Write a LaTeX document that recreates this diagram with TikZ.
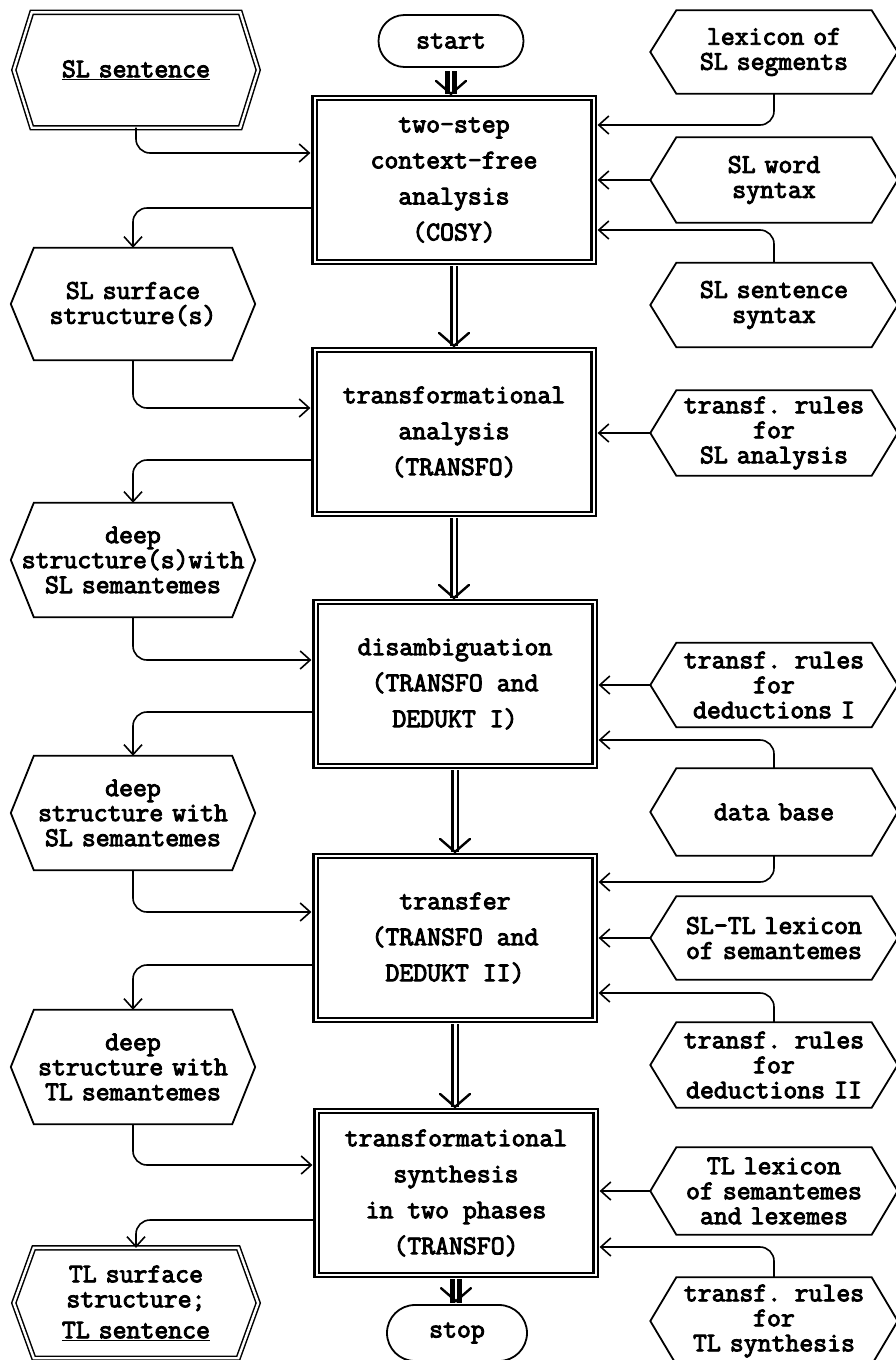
\documentclass[tikz,border=0pt]{standalone}
\usepackage{fontspec}
\newfontfamily\twfont{Latin Modern Mono}[FakeBold=3.5]
\usetikzlibrary{arrows.meta,shapes.misc}
\newcommand\hexoutline[3][]{\draw[hexline,#1] (#2.west) -- ([xshift=#3]#2.north west) -- ([xshift=-#3]#2.north east) -- (#2.east) -- ([xshift=-#3]#2.south east) -- ([xshift=#3]#2.south west) -- cycle;}
\newcommand\vtip[1]{\draw[vtipline] ([xshift=-15pt,yshift=16pt]#1) -- ([yshift=3pt]#1) -- ([xshift=15pt,yshift=16pt]#1);}
\begin{document}
\begin{tikzpicture}[x=1pt,y=-1pt,
  txt/.style={font={\twfont\fontsize{27pt}{25pt}\selectfont}, align=center, inner sep=0pt},
  lhex/.style={txt, minimum width=244pt, text width=238pt},
  rhex/.style={txt, minimum width=247pt, text width=238pt},
  hexline/.style={line width=1.8pt, line join=miter},
  dhex/.style={double, line width=1.5pt, double distance=2.4pt},
  procbox/.style={txt, font={\twfont\fontsize{27pt}{36pt}\selectfont}, draw, double, line width=2.2pt, double distance=2pt, minimum width=279pt, minimum height=164pt},
  term/.style={txt, draw, rounded rectangle, line width=1.8pt},
  conn/.style={line width=1.6pt, rounded corners=14pt, -{Straight Barb[length=10pt,width=18pt]}},
  flow/.style={double, line width=2.4pt, double distance=3pt, shorten <=3.3pt, shorten >=3.3pt},
  heavyflow/.style={flow, line width=5pt, double distance=1.5pt},
  vtipline/.style={line width=2.4pt, line cap=round, line join=miter}
]
\useasboundingbox (0,0) rectangle (895,1360);

% ---- centre column ----
\node[term, minimum width=145pt, minimum height=52pt] (start) at (451,41) {start};
\node[procbox] (b1) at (454,180) {two-step\\context-free\\analysis\\(COSY)};
\node[procbox] (b2) at (454,432) {transformational\\analysis\\(TRANSFO)};
\node[procbox] (b3) at (455,684) {disambiguation\\(TRANSFO and\\DEDUKT I)};
\node[procbox] (b4) at (455,938) {transfer\\(TRANSFO and\\DEDUKT II)};
\node[procbox] (b5) at (456,1193) {transformational\\synthesis\\in two phases\\(TRANSFO)};
\node[term, minimum width=140pt, minimum height=56pt] (stop) at (457,1333) {stop};

% ---- left column ----
\node[lhex, minimum height=115pt] (slsent) at (136,70) {\underline{SL sentence}};
\hexoutline[dhex]{slsent}{18pt}
\node[lhex, minimum height=112pt] (sls) at (133,304) {SL surface\\structure(s)};
\hexoutline{sls}{23pt}
\node[lhex, minimum height=114pt] (ds1) at (133,560) {deep\\structure(s)with\\SL semantemes};
\hexoutline{ds1}{23pt}
\node[lhex, minimum height=114pt] (ds2) at (133,813) {deep\\structure with\\SL semantemes};
\hexoutline{ds2}{23pt}
\node[lhex, minimum height=114pt] (ds3) at (133,1067) {deep\\structure with\\TL semantemes};
\hexoutline{ds3}{23pt}
\node[lhex, minimum height=110pt] (tls) at (136,1303) {TL surface\\structure;\\[6pt]\underline{TL sentence}};
\hexoutline[dhex]{tls}{20pt}

% ---- right column ----
\node[rhex, minimum height=83pt] (lex) at (774,52) {lexicon of\\SL segments};
\hexoutline{lex}{26pt}
\node[rhex, minimum height=85pt] (sws) at (774,180) {SL word\\syntax};
\hexoutline{sws}{26pt}
\node[rhex, minimum height=84pt] (sss) at (774,305) {SL sentence\\syntax};
\hexoutline{sss}{26pt}
\node[rhex, minimum height=85pt] (tra) at (774,433) {transf. rules\\for\\SL analysis};
\hexoutline{tra}{26pt}
\node[rhex, minimum height=84pt] (td1) at (774,685) {transf. rules\\for\\deductions I};
\hexoutline{td1}{26pt}
\node[rhex, minimum height=87pt] (db) at (774,812) {data base};
\hexoutline{db}{26pt}
\node[rhex, minimum height=83pt] (sltl) at (774,938) {SL-TL lexicon\\of semantemes};
\hexoutline{sltl}{26pt}
\node[rhex, minimum height=85pt] (td2) at (774,1065) {transf. rules\\for\\deductions II};
\hexoutline{td2}{26pt}
\node[rhex, minimum height=87pt] (tllex) at (774,1191) {TL lexicon\\of semantemes\\and lexemes};
\hexoutline{tllex}{26pt}
\node[rhex, minimum height=87pt] (trs) at (774,1321) {transf. rules\\for\\TL synthesis};
\hexoutline{trs}{26pt}

% ---- main flow: double shaft with an open V tip ----
\coordinate (in1) at (start.south |- b1.north);
\coordinate (in2) at (b1.south |- b2.north);
\coordinate (in3) at (b2.south |- b3.north);
\coordinate (in4) at (b3.south |- b4.north);
\coordinate (in5) at (b4.south |- b5.north);
\coordinate (in6) at (b5.south |- stop.north);
\draw[heavyflow] (start.south) -- (in1);
\vtip{in1}
\draw[flow] (b1.south) -- (in2);
\vtip{in2}
\draw[flow] (b2.south) -- (in3);
\vtip{in3}
\draw[flow] (b3.south) -- (in4);
\vtip{in4}
\draw[flow] (b4.south) -- (in5);
\vtip{in5}
\draw[heavyflow, shorten >=1pt] (b5.south) -- (in6);
\vtip{in6}

% ---- left connectors ----
\draw[conn, shorten >=3pt] (slsent.south) |- ([yshift=27pt]b1.west);
\draw[conn] ([yshift=-28pt]b1.west) -| (sls.north);
\draw[conn, shorten >=3pt] (sls.south) |- ([yshift=24pt]b2.west);
\draw[conn] ([yshift=-28pt]b2.west) -| (ds1.north);
\draw[conn, shorten >=3pt] (ds1.south) |- ([yshift=24pt]b3.west);
\draw[conn] ([yshift=-28pt]b3.west) -| (ds2.north);
\draw[conn, shorten >=3pt] (ds2.south) |- ([yshift=26pt]b4.west);
\draw[conn] ([yshift=-27pt]b4.west) -| (ds3.north);
\draw[conn, shorten >=3pt] (ds3.south) |- ([yshift=28pt]b5.west);
\draw[conn] ([yshift=-27pt]b5.west) -| (tls.north);

% ---- right connectors ----
\draw[conn, shorten >=3pt] (lex.south) |- ([yshift=55pt]b1.east);
\draw[conn, shorten >=3pt] (sws.west) -- (sws.west -| b1.east);
\draw[conn, shorten >=3pt] (sss.north) |- ([yshift=-50pt]b1.east);
\draw[conn, shorten >=3pt] (tra.west) -- (tra.west -| b2.east);
\draw[conn, shorten >=3pt] (td1.west) -- (td1.west -| b3.east);
\draw[conn, shorten >=3pt] (db.north) |- ([yshift=-56pt]b3.east);
\draw[conn, shorten >=3pt] (db.south) |- ([yshift=56pt]b4.east);
\draw[conn, shorten >=3pt] (sltl.west) -- (sltl.west -| b4.east);
\draw[conn, shorten >=3pt] (td2.north) |- ([yshift=-55pt]b4.east);
\draw[conn, shorten >=3pt] (tllex.west) -- (tllex.west -| b5.east);
\draw[conn, shorten >=3pt] (trs.north) |- ([yshift=-54pt]b5.east);
\end{tikzpicture}
\end{document}
